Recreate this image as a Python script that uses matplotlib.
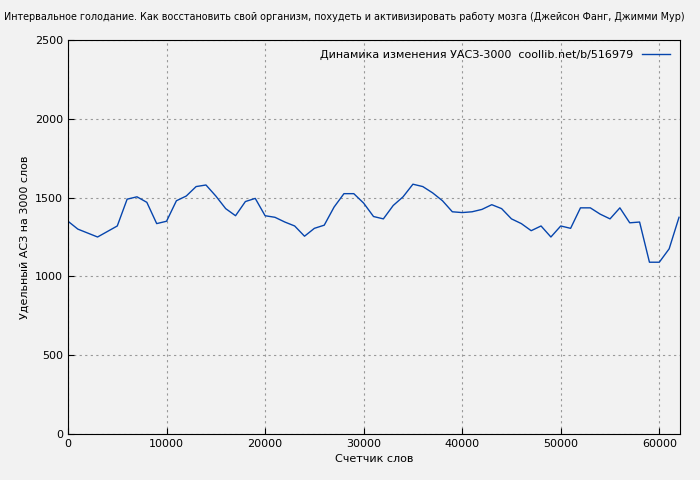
import matplotlib
matplotlib.use("Agg")
import matplotlib.pyplot as plt

words = list(range(0, 63000, 1000))
usas = [1350, 1300, 1275, 1250, 1285, 1320, 1490, 1505, 1470, 1335,
        1350, 1480, 1510, 1570, 1580, 1510, 1430, 1385, 1475, 1495,
        1385, 1375, 1345, 1320, 1255, 1305, 1325, 1440, 1525, 1525,
        1465, 1380, 1365, 1450, 1505, 1585, 1570, 1530, 1480, 1410,
        1405, 1410, 1425, 1455, 1430, 1365, 1335, 1290, 1320, 1250,
        1320, 1305, 1435, 1435, 1395, 1365, 1435, 1340, 1345, 1090,
        1090, 1175, 1375]

fig = plt.figure(figsize=(7, 4.8), dpi=100)
fig.patch.set_facecolor("#f2f2f2")
ax = fig.add_axes([68/700, 1-434/480, 612/700, 394/480])
ax.set_facecolor("#f2f2f2")
ax.plot(words, usas, color="#0645ad", lw=1,
        label="Динамика изменения УАСЗ-3000  coollib.net/b/516979")
ax.set_xlim(0, 62100)
ax.set_ylim(0, 2500)
ax.set_xticks(range(0, 60001, 10000))
ax.set_yticks(range(0, 2501, 500))
ax.grid(True, color="#999999", ls=(0, (2, 3)), lw=0.8)
ax.tick_params(labelsize=8, direction="in", length=4)
ax.set_xlabel("Счетчик слов", fontsize=8)
ax.set_ylabel("Удельный АСЗ на 3000 слов", fontsize=8)
ax.legend(loc="upper right", fontsize=8, frameon=False, markerfirst=False,
          handlelength=2.5)
fig.text(0.006, 0.965, "Интервальное голодание. Как восстановить свой организм, похудеть и активизировать работу мозга (Джейсон Фанг, Джимми Мур)",
         fontsize=6.9, va="center", ha="left")
fig.savefig("out.png", dpi=100, facecolor=fig.get_facecolor())
